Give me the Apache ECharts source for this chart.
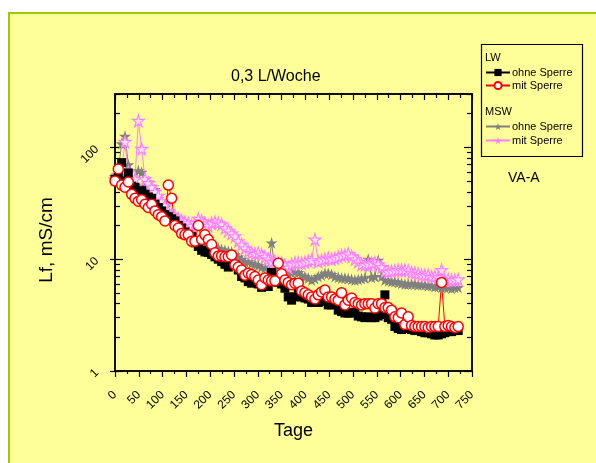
<!DOCTYPE html>
<html>
<head>
<meta charset="utf-8">
<script src="https://cdn.jsdelivr.net/npm/echarts@6/dist/echarts.min.js"></script>
<style>
  html, body { margin: 0; padding: 0; background: #ffffff; }
  #frame { position: absolute; left: 8px; top: 12px; width: 600px; height: 470px;
           background: #FFFF99; border-left: 2px solid #99CC00; border-top: 2px solid #99CC00; }
  #chart { position: absolute; left: 0; top: 0; width: 596px; height: 463px; }
</style>
</head>
<body>
<div id="frame"></div>
<div id="chart"></div>
<script>
// Sampling days (weekly)
const days = [0,7,14,21,28,35,42,49,56,63,70,77,84,91,98,105,112,119,126,133,140,147,154,161,168,175,182,189,196,203,210,217,224,231,238,245,252,259,266,273,280,287,294,301,308,315,322,329,336,343,350,357,364,371,378,385,392,399,406,413,420,427,434,441,448,455,462,469,476,483,490,497,504,511,518,525,532,539,546,553,560,567,574,581,588,595,602,609,616,623,630,637,644,651,658,665,672,679,686,693,700,707,714,721];

// Conductivity Lf in mS/cm
const lwOhne = [52,58,73,50,59,45,44,40,41,38,36,35,31,29,27,25,24,23,22,20,19,17.5,16.5,16,14,13,12,11.6,11.5,11,10.5,10,9.5,9.0,8.5,9.0,8.9,8.0,7.0,6.8,6.3,6.1,6.5,6.0,5.6,5.8,5.7,7.6,6.3,6.2,6.0,5.5,4.6,4.3,4.6,5.0,4.6,4.5,4.4,4.1,4.2,4.1,4.2,4.3,3.9,3.9,4.0,3.5,3.4,3.3,3.3,3.3,3.35,3.1,3.05,3.0,3.05,3.0,3.0,3.1,3.2,4.8,3.0,2.9,2.5,2.4,2.35,2.4,2.4,2.35,2.3,2.3,2.25,2.2,2.2,2.15,2.1,2.1,2.15,2.2,2.25,2.25,2.3,2.3];
const lwMit = [50,64,46,44,49,38,35,33,34,31,29,31,27,25,24,22,46,35,20,19,17,16.5,16.5,14.5,14.5,20,15,16.5,15,13.5,11.4,10.7,10.7,10.5,10.5,10.9,8.9,8.5,8.0,7.2,7.5,7.3,7.0,6.5,5.9,6.8,6.5,6.4,6.4,9.2,7.4,6.5,6.2,5.9,6.1,6.1,5.2,5.0,4.8,4.6,4.4,4.8,5.1,5.3,4.6,4.6,4.4,4.3,5.0,3.9,4.3,4.5,4.1,4.0,3.9,4.0,4.0,4.0,3.65,4.0,4.0,3.7,3.7,3.5,3.05,3.0,3.3,2.6,3.05,2.55,2.5,2.5,2.5,2.5,2.45,2.5,2.5,2.5,6.2,2.5,2.55,2.5,2.45,2.5];
const mswOhne = [55,62,108,126,70,52,46,62,60,45,49,45,42,35,33,29,25,23,22,20,19,18,17,16,15,14.5,14,13.5,13.5,13,12.8,12.5,12.2,12,11.8,11.6,11,10.5,10,9.5,9.5,9.2,9.0,8.8,8.5,8.4,8.2,14,8.0,7.6,7.5,7.4,7.3,7.6,7.7,7.6,7.2,7.0,6.8,6.5,6.7,7.0,7.2,7.5,7.5,7.3,7.0,6.9,6.8,6.8,6.7,6.6,6.5,6.6,6.7,6.8,10.0,6.9,7.0,9.8,7.0,6.5,6.4,6.3,6.3,6.2,6.1,6.0,6.0,6.0,6.0,5.9,5.9,5.9,5.8,5.8,5.7,5.7,5.6,5.6,5.6,5.5,5.6,5.6];
const mswMit = [52,57,62,112,60,50,52,173,97,52,48,44,40,37,33,30,27,25,24,23,22,21.5,21,20,21,23,22,21,20,21,21.5,21,20.5,19,18,17,16,14.5,13.5,12.5,11.8,11.4,11.2,11.4,11.0,10.5,10,9.5,9.6,9.3,9.2,8.8,8.4,9.0,9.3,9.3,9.2,9.4,9.6,9.8,15,9.5,9.8,10.0,10.2,10.0,10.2,10.5,10.8,10.9,11.2,10.6,10.0,9.5,9.0,8.9,9.0,9.2,9.3,9.0,8.5,7.8,7.7,7.8,7.9,8.0,8.0,8.0,7.9,7.6,7.5,7.4,7.2,7.2,7.2,7.0,7.0,6.9,8.0,6.5,6.6,6.5,6.5,6.6];

// Axis tick values
const yMajor = [1, 10, 100];
const yMinor = [2,3,4,5,6,7,8,9,20,30,40,50,60,70,80,90,200,300];

const FONT = 'Liberation Sans, Arial, sans-serif';
const STAR = 'path://M50,0 L61,35 L98,35 L68,57 L79,91 L50,70 L21,91 L32,57 L2,35 L39,35 Z';
const TICK = { color: '#000', width: 1.2 };

const pairs = v => days.map((d, i) => [d, v[i]]);

const chart = echarts.init(document.getElementById('chart'), null, { renderer: 'canvas' });

// Three overlapping grids of the same size: the extra ones carry the
// longer decade ticks on the inside and the outside of the frame.
const gridBox = { left: 115, right: 124, top: 94, bottom: 92 };

const xHidden = g => ({ type: 'value', gridIndex: g, min: 0, max: 750, interval: 50, show: false });
const yLog = (g, pos, extra) => Object.assign({
  type: 'log', logBase: 10, min: 1, max: 300, gridIndex: g, position: pos,
  axisLine: { show: false, onZero: false }, splitLine: { show: false }, axisLabel: { show: false }
}, extra);
const frameLine = { show: true, onZero: false, lineStyle: { color: '#000', width: 1.5 } };

chart.setOption({
  backgroundColor: 'transparent',
  animation: false,
  textStyle: { fontFamily: FONT },
  title: {
    text: '0,3 L/Woche', left: 226, top: 64,
    textStyle: { fontFamily: FONT, fontSize: 16, fontWeight: 'normal', color: '#000' }
  },
  grid: [
    Object.assign({ show: true, borderColor: '#000', borderWidth: 1.5, backgroundColor: 'transparent' }, gridBox),
    Object.assign({}, gridBox),
    Object.assign({}, gridBox)
  ],
  xAxis: [
    {
      type: 'value', gridIndex: 0, min: 0, max: 750, interval: 50, position: 'bottom',
      name: 'Tage', nameLocation: 'middle', nameGap: 51,
      nameTextStyle: { fontFamily: FONT, fontSize: 18, color: '#000' },
      axisLine: frameLine,
      splitLine: { show: false },
      axisTick: { show: true, inside: false, length: 6, lineStyle: TICK },
      minorTick: { show: true, splitNumber: 2, length: 3, lineStyle: TICK },
      axisLabel: { show: true, rotate: 45, fontSize: 12, fontFamily: FONT, color: '#000', margin: 22 }
    },
    {
      type: 'value', gridIndex: 0, min: 0, max: 750, interval: 50, position: 'top',
      axisLine: frameLine,
      splitLine: { show: false },
      axisTick: { show: true, inside: true, length: 6, lineStyle: TICK },
      minorTick: { show: true, splitNumber: 2, length: 4, lineStyle: TICK },
      axisLabel: { show: false }
    },
    xHidden(1),
    xHidden(2)
  ],
  yAxis: [
    yLog(0, 'left', {
      axisLine: frameLine,
      axisTick: { show: true, inside: true, length: 5, customValues: yMinor, lineStyle: TICK },
      axisLabel: { show: true, customValues: yMajor, rotate: 45, fontSize: 12, fontFamily: FONT, color: '#000', margin: 18 }
    }),
    yLog(0, 'right', {
      axisLine: frameLine,
      axisTick: { show: true, inside: true, length: 5, customValues: yMinor, lineStyle: TICK }
    }),
    yLog(1, 'left', {
      axisTick: { show: true, inside: true, length: 8, customValues: yMajor, lineStyle: TICK }
    }),
    yLog(1, 'right', {
      axisTick: { show: true, inside: true, length: 8, customValues: yMajor, lineStyle: TICK }
    }),
    yLog(2, 'left', {
      axisTick: { show: true, inside: false, length: 5, customValues: yMajor, lineStyle: TICK }
    })
  ],
  legend: [
    {
      data: ['LW ohne Sperre', 'LW mit Sperre'],
      left: 485, top: 67, orient: 'vertical', itemWidth: 24, itemHeight: 9, itemGap: 2,
      selectedMode: false, padding: 0,
      formatter: n => n.replace(/^LW /, ''),
      textStyle: { fontFamily: FONT, fontSize: 11, color: '#000', padding: [0, 0, 0, -3] }
    },
    {
      data: [
        'MSW ohne Sperre',
        { name: 'MSW mit Sperre', itemStyle: { color: '#FF80FF', borderWidth: 0 } }
      ],
      left: 485, top: 121, orient: 'vertical', itemWidth: 24, itemHeight: 9, itemGap: 3,
      selectedMode: false, padding: 0,
      formatter: n => n.replace(/^MSW /, ''),
      textStyle: { fontFamily: FONT, fontSize: 11, color: '#000', padding: [0, 0, 0, -3] }
    }
  ],
  graphic: [
    { type: 'rect', left: 479, top: 42, shape: { width: 101, height: 112 },
      style: { fill: 'none', stroke: '#000', lineWidth: 1.2 }, z: 1 },
    { type: 'text', left: 485, top: 52, style: { text: 'LW', font: '11px ' + FONT, fill: '#000' } },
    { type: 'text', left: 485, top: 106, style: { text: 'MSW', font: '11px ' + FONT, fill: '#000' } },
    { type: 'text', left: 508, top: 171, style: { text: 'VA-A', font: '14px ' + FONT, fill: '#000' } },
    { type: 'text', x: 47, y: 240, rotation: Math.PI / 2,
      style: { text: 'Lf, mS/cm', font: '19px ' + FONT, fill: '#000', align: 'center', verticalAlign: 'middle' } }
  ],
  series: [
    {
      name: 'MSW ohne Sperre', type: 'line', data: pairs(mswOhne),
      symbol: STAR, symbolSize: 12,
      lineStyle: { color: '#808080', width: 1 },
      itemStyle: { color: '#808080', borderColor: '#808080', borderWidth: 0 }
    },
    {
      name: 'MSW mit Sperre', type: 'line', data: pairs(mswMit),
      symbol: STAR, symbolSize: 12,
      lineStyle: { color: '#FF80FF', width: 1 },
      itemStyle: { color: '#FFE0FF', borderColor: '#FF80FF', borderWidth: 1.2 }
    },
    {
      name: 'LW ohne Sperre', type: 'line', data: pairs(lwOhne),
      symbol: 'rect', symbolSize: 9,
      lineStyle: { color: '#000', width: 1 },
      itemStyle: { color: '#000', borderWidth: 0 }
    },
    {
      name: 'LW mit Sperre', type: 'line', data: pairs(lwMit),
      symbol: 'circle', symbolSize: 10,
      lineStyle: { color: '#FF0000', width: 1 },
      itemStyle: { color: '#FFFFFF', borderColor: '#FF0000', borderWidth: 1.5 }
    }
  ]
});
</script>
</body>
</html>
